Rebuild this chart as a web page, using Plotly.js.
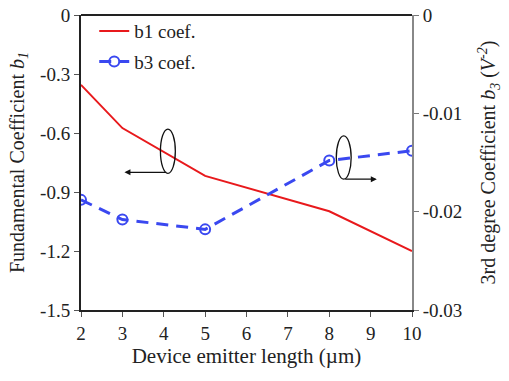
<!DOCTYPE html>
<html><head><meta charset="utf-8">
<script src="https://cdn.plot.ly/plotly-3.0.1.min.js"></script>
<style>html,body{margin:0;padding:0;background:#fff;}#chart{width:509px;height:381px;}</style>
</head><body><div id="chart"></div>
<script>
const emitterLength = [2, 3, 5, 8, 10];
const b1Coef = [-0.355, -0.575, -0.818, -0.998, -1.2];
const b3Coef = [-0.0188, -0.0208, -0.0218, -0.0148, -0.0138];
const xTicks = [2, 3, 4, 5, 6, 7, 8, 9, 10];
const leftTickVals = [0, -0.3, -0.6, -0.9, -1.2, -1.5];
const leftTickText = ['0', '-0.3', '-0.6', '-0.9', '-1.2', '-1.5'];
const rightTickVals = [0, -0.01, -0.02, -0.03];
const rightTickText = ['0', '-0.01', '-0.02', '-0.03'];

const font = 'Liberation Serif';
const traces = [
  {x: emitterLength, y: b1Coef, name: 'b1 coef.', type: 'scatter', mode: 'lines', legendgroup: 'a',
   line: {color: '#e8191c', width: 2}},
  {x: emitterLength, y: b3Coef, name: 'b3 coef.', type: 'scatter', mode: 'lines+markers', yaxis: 'y2', legendgroup: 'b',
   line: {color: '#3a48f0', width: 3, dash: '12px,8px'},
   marker: {symbol: 'circle-open', size: 10, color: '#3a48f0', line: {width: 2, color: '#3a48f0'}}}
];
const layout = {
  width: 509, height: 381,
  margin: {l: 81, r: 97, t: 13, b: 71},
  paper_bgcolor: '#fff', plot_bgcolor: '#fff',
  font: {family: font, size: 18, color: '#222'},
  showlegend: true,
  legend: {x: 0.04, y: 1.01, xanchor: 'left', yanchor: 'top', bgcolor: 'rgba(0,0,0,0)',
           font: {family: font, size: 19, color: '#222'}, tracegroupgap: 3, itemwidth: 30},
  xaxis: {range: [2, 10], tickvals: xTicks, ticks: 'outside', ticklen: 5, tickcolor: '#555',
          tickfont: {family: font, size: 19},
          showline: true, linecolor: '#222', linewidth: 2, mirror: false, showgrid: false, zeroline: false,
          title: {text: 'Device emitter length (µm)', font: {family: font, size: 21}, standoff: 6}},
  yaxis: {range: [-1.5, 0], tickvals: leftTickVals, ticktext: leftTickText, ticks: 'outside', ticklen: 5,
          tickfont: {family: font, size: 19},
          tickcolor: '#555', showline: true, linecolor: '#222', linewidth: 2, showgrid: false, zeroline: false,
          title: {text: 'Fundamental Coefficient <i>b<sub>1</sub></i>', font: {family: font, size: 20}, standoff: 10}},
  yaxis2: {range: [-0.03, 0], overlaying: 'y', side: 'right', tickvals: rightTickVals, ticktext: rightTickText,
           tickfont: {family: font, size: 19},
           ticks: 'outside', ticklen: 5, tickcolor: '#777', showline: true, linecolor: '#888', linewidth: 2,
           showgrid: false, zeroline: false,
           title: {text: '3rd degree Coefficient <i>b<sub>3</sub></i> (<i>V<sup>-2</sup></i>)', font: {family: font, size: 20}, standoff: 20}},
  shapes: [
    {type: 'line', xref: 'paper', yref: 'paper', x0: 0, x1: 1, y0: 1, y1: 1, line: {color: '#222', width: 2}},
    {type: 'circle', xref: 'x', yref: 'y', x0: 3.92, x1: 4.28, y0: -0.58, y1: -0.805, line: {color: '#111', width: 1.3}},
    {type: 'circle', xref: 'x', yref: 'y', x0: 8.17, x1: 8.53, y0: -0.615, y1: -0.835, line: {color: '#111', width: 1.3}}
  ],
  annotations: [
    {x: 3.05, y: -0.8, ax: 4.1, ay: -0.8, xref: 'x', yref: 'y', axref: 'x', ayref: 'y', text: '',
     showarrow: true, arrowhead: 2, arrowsize: 1, arrowwidth: 1.2, arrowcolor: '#111'},
    {x: 9.15, y: -0.835, ax: 8.35, ay: -0.835, xref: 'x', yref: 'y', axref: 'x', ayref: 'y', text: '',
     showarrow: true, arrowhead: 2, arrowsize: 1, arrowwidth: 1.2, arrowcolor: '#111'}
  ]
};
Plotly.newPlot('chart', traces, layout, {displayModeBar: false, staticPlot: true});
</script></body></html>
